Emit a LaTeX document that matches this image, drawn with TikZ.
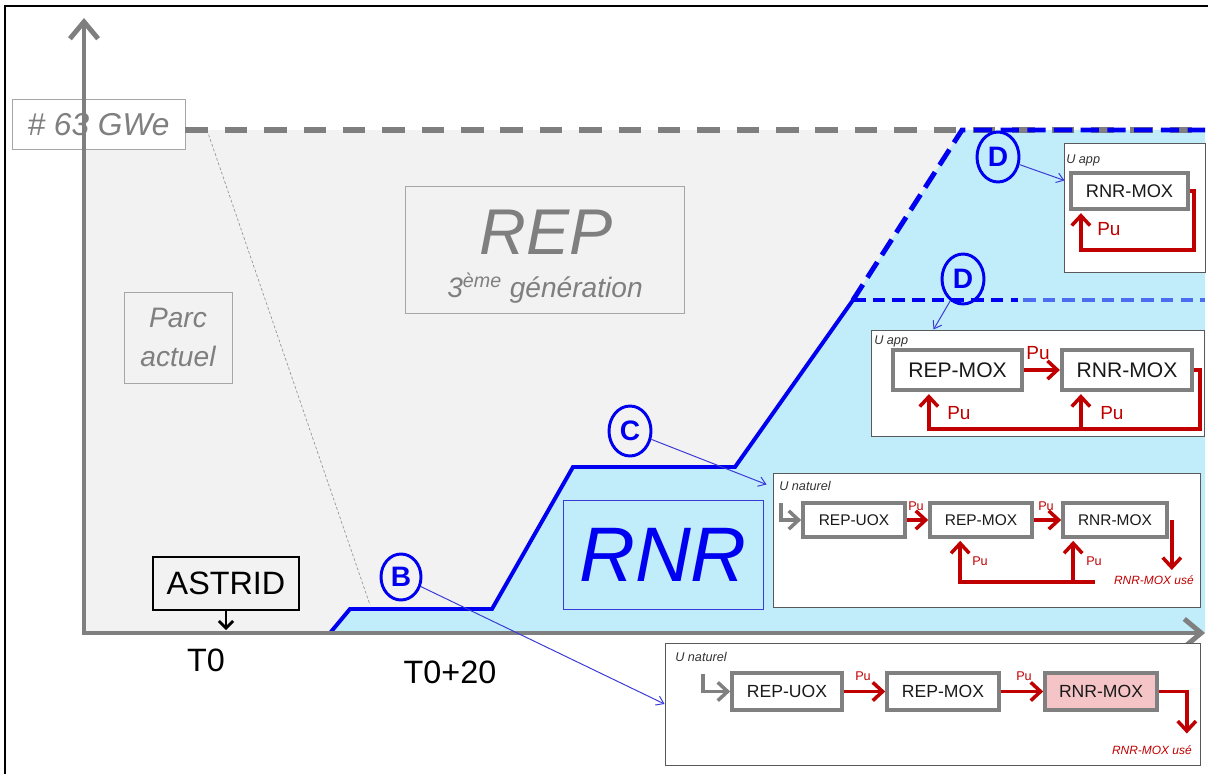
\documentclass[tikz,border=0pt]{standalone}
\usepackage{fontspec}
\setmainfont{Liberation Sans}
\usetikzlibrary{arrows.meta, shapes.geometric, calc}

\definecolor{axisgray}{HTML}{7F7F7F}
\definecolor{bggray}{HTML}{F2F2F2}
\definecolor{rnrcyan}{HTML}{C1ECFA}
\definecolor{rnrblue}{HTML}{0000F0}
\definecolor{lightblue}{HTML}{4D6DF0}
\definecolor{pointerblue}{HTML}{3A3AD6}
\definecolor{pured}{HTML}{C00000}
\definecolor{boxgray}{HTML}{808080}
\definecolor{panelgray}{HTML}{595959}
\definecolor{moxpink}{HTML}{F4C4C6}

\newcommand{\fsz}[1]{\fontsize{#1}{#1}\selectfont}

\tikzset{
  wh/.style 2 args={minimum width=#1*0.025cm, minimum height=#2*0.025cm},
  labelbox/.style={draw=black!35, line width=0.7pt, inner sep=0pt},
  panel/.style={draw=panelgray, line width=0.7pt, fill=white, inner sep=0pt},
  reactor/.style={draw=boxgray, line width=3pt, fill=white, inner sep=0pt, text=black!90},
  reactor thin/.style={reactor, line width=2.6pt},
  letter/.style={ellipse, draw=rnrblue, line width=2.1pt, wh={42}{50}, inner sep=0pt,
    text=rnrblue, font=\fsz{20}\bfseries},
  note/.style={anchor=west, inner sep=0pt, font=\fsz{9}\itshape, text=black!80},
  pulabel/.style={anchor=west, inner sep=0pt, text=pured},
  usedlabel/.style={anchor=east, inner sep=0pt, font=\fsz{8.5}\itshape, text=pured},
  pu/.style={draw=pured, line width=2.5pt, -{Straight Barb[length=7pt,width=13pt]}},
  inflow/.style={draw=boxgray, line width=2.5pt, -{Straight Barb[length=7pt,width=13pt]}},
  pointer/.style={draw=pointerblue, line width=0.7pt, -{Straight Barb[length=5pt,width=7pt]}},
  axis/.style={draw=axisgray, line width=3.5pt, -{Straight Barb[length=12pt,width=20pt]}},
  rnrline/.style={draw=rnrblue, line width=2.8pt},
}

\begin{document}
\begin{tikzpicture}[x=0.025cm, y=-0.025cm]
\useasboundingbox (0,0) rectangle (1208,774);

%% frame
\draw[line width=1pt] (5,774) -- (5,6) -- (1208,6);

%% key points of the graph
\coordinate (origin) at (84,633);
\coordinate (xend) at (1205,633);
\coordinate (yend) at (84,18);
\coordinate (cap) at (84,130);
\coordinate (b0) at (330,633);
\coordinate (b1) at (350,609);
\coordinate (b2) at (492,609);
\coordinate (c1) at (573,467);
\coordinate (c2) at (735,467);
\coordinate (d0) at (853,300);
\coordinate (d1) at (962,130);

%% areas
\fill[bggray] (cap) rectangle (xend);
\fill[rnrcyan] (b0) -- (b1) -- (b2) -- (c1) -- (c2) -- (d0) -- (d1) -- (d1 -| xend) -- (xend) -- cycle;
\draw[axisgray!80, line width=0.5pt, dash pattern=on 2pt off 1.5pt] (207,130) -- (370,605);

%% # 63 GWe level
\node[labelbox, fill=white, wh={173}{50}, font=\fsz{22.5}\itshape, text=axisgray] (gwe) at (98.5,124.5) {\# 63 GWe};
\draw[axisgray, line width=4pt, dash pattern=on 16pt off 12pt] (gwe.east |- cap) -- (xend |- cap);

%% RNR curve
\draw[rnrline, line width=3.5pt, dash pattern=on 13pt off 6pt] (d0) -- (d1) -- (d1 -| xend);
\draw[rnrline, line width=3.5pt, dash pattern=on 9pt off 5pt] (d0) -- ($(d0)+(165,0)$);
\draw[lightblue, line width=3.5pt, dash pattern=on 9pt off 5pt] ($(d0)+(170,0)$) -- (d0 -| xend);
\draw[rnrline] (b0) -- (b1) -- (b2) -- (c1) -- (c2) -- (d0);

%% axes
\draw[axis] ($(origin)+(0,2)$) -- (yend);
\draw[axis] ($(origin)+(-2,0)$) -- (xend);

%% labels of the graph
\node[labelbox, wh={108}{91}, align=center, font=\fontsize{20}{27.6}\selectfont\itshape, text=axisgray] (parc) at (178,337.5) {Parc\\actuel};
\node[labelbox, wh={279}{127}] (rep) at (544.5,249.5) {};
\node[anchor=base, font=\fsz{46}\itshape, text=axisgray] (reptitle) at (546,255) {REP};
\node[anchor=base, font=\fsz{20}\itshape, text=axisgray] (repgen) at (545,298) {3\textsuperscript{ème} génération};
\node[draw=pointerblue, line width=0.7pt, wh={200}{109}, inner sep=0pt, font=\fsz{55}\itshape, text=rnrblue] (rnr) at (663,554.5) {RNR};
\node[draw=black, line width=0.8pt, wh={146}{53}, inner sep=0pt, font=\fsz{23}] (astrid) at (226,583.5) {ASTRID};
\draw[line width=2pt, -{Straight Barb[length=5pt,width=10pt]}] (astrid.south) -- ($(astrid.south |- origin)+(0,-3)$);
\node[font=\fsz{23}] (t0) at (206,660) {T0};
\node[font=\fsz{23}] (t20) at (450,672) {T0+20};

%% steps
\node[letter, wh={40}{46}] (cB) at (401,577) {B};
\node[letter] (cC) at (630,431) {C};
\node[letter] (cD1) at (998,157) {D};
\node[letter] (cD2) at (963,279) {D};

%% D : RNR-MOX alone
\node[panel, wh={141}{129}] (panelD1) at (1134.5,207.5) {};
\node[note] (uappD1) at (1066,160) {U app};
\node[reactor, wh={117}{36}, font=\fsz{13}] (rnrD1) at (1129.5,191) {RNR-MOX};
\draw[pu] (rnrD1.east) -| ($(rnrD1.south east)+(4,39)$) -| ($(rnrD1.south west)+(12,2)$);
\node[pulabel, font=\fsz{13.5}] (puD1) at (1097,229) {Pu};

%% D : REP-MOX + RNR-MOX
\node[panel, wh={333}{106}] (panelD2) at (1037.5,383) {};
\node[note] (uappD2) at (874,341) {U app};
\node[reactor, wh={129}{40}, font=\fsz{15}] (repD2) at (957.5,370) {REP-MOX};
\node[reactor, wh={130}{40}, font=\fsz{15}] (rnrD2) at (1127,370) {RNR-MOX};
\draw[pu] (repD2) -- (rnrD2);
\node[pulabel, anchor=center, font=\fsz{13.5}] (puD2a) at (1038,353) {Pu};
\coordinate (fbD2) at ($(rnrD2.south east)+(6,37)$);
\draw[pu] (rnrD2.east) -| (fbD2) -| ($(repD2.south west)+(38,2)$);
\draw[pu] ($(rnrD2.south west)+(21,37)$) -- ($(rnrD2.south west)+(21,2)$);
\node[pulabel, font=\fsz{13.5}] (puD2b) at (947,413) {Pu};
\node[pulabel, font=\fsz{13.5}] (puD2c) at (1100,413) {Pu};

%% C : REP-UOX + REP-MOX + RNR-MOX
\node[panel, wh={427}{134}] (panelC) at (986.5,540) {};
\node[note] (unatC) at (779,486) {U naturel};
\node[reactor thin, wh={102}{34}, font=\fsz{11}] (uoxC) at (854,520) {REP-UOX};
\node[reactor thin, wh={102}{34}, font=\fsz{11}] (moxC) at (981,520) {REP-MOX};
\node[reactor thin, wh={104}{34}, font=\fsz{11}] (rnrC) at (1115,520) {RNR-MOX};
\draw[inflow] ($(uoxC.west)+(-20,-17)$) |- (uoxC.west);
\draw[pu] (uoxC) -- (moxC);
\draw[pu] (moxC) -- (rnrC);
\node[pulabel, anchor=center, font=\fsz{9}] (puCa) at (916,506) {Pu};
\node[pulabel, anchor=center, font=\fsz{9}] (puCb) at (1046,506) {Pu};
\draw[pu] ($(rnrC.east)+(3,0)$) -- ++(0,50);
\node[usedlabel] (usedC) at (1194,580) {RNR-MOX usé};
\coordinate (fbC) at ($(rnrC.south west)+(34,43)$);
\draw[pu] (fbC) -| ($(moxC.south west)+(32,2)$);
\draw[pu] ($(rnrC.south west)+(12,43)$) -- ($(rnrC.south west)+(12,2)$);
\node[pulabel, font=\fsz{9}] (puCc) at (972,561) {Pu};
\node[pulabel, font=\fsz{9}] (puCd) at (1086,561) {Pu};

%% B : once through RNR-MOX
\node[panel, wh={535}{122}] (panelB) at (932.5,704) {};
\node[note] (unatB) at (675,657) {U naturel};
\node[reactor thin, wh={110}{37}, font=\fsz{12.5}] (uoxB) at (787,691.5) {REP-UOX};
\node[reactor thin, wh={112}{37}, font=\fsz{12.5}] (moxB) at (943,691.5) {REP-MOX};
\node[reactor thin, wh={112}{37}, font=\fsz{12.5}, fill=moxpink] (rnrB) at (1101,691.5) {RNR-MOX};
\draw[inflow] ($(uoxB.west)+(-27,-18)$) |- (uoxB.west);
\draw[pu] (uoxB) -- (moxB);
\draw[pu] (moxB) -- (rnrB);
\node[pulabel, anchor=center, font=\fsz{9}] (puBa) at (863,676) {Pu};
\node[pulabel, anchor=center, font=\fsz{9}] (puBb) at (1024,676) {Pu};
\draw[pu] (rnrB.east) -| ($(rnrB.east)+(28,42)$);
\node[usedlabel] (usedB) at (1192,750) {RNR-MOX usé};

%% pointers from the steps
\draw[pointer] (cB) -- (panelB.west);
\draw[pointer] (cC) -- ($(panelC.north west)+(-6,12)$);
\draw[pointer] (cD1) -- ($(panelD1.north west)+(1,38)$);
\draw[pointer] (cD2) -- ($(panelD2.north west)+(63,0)$);

\end{tikzpicture}
\end{document}
